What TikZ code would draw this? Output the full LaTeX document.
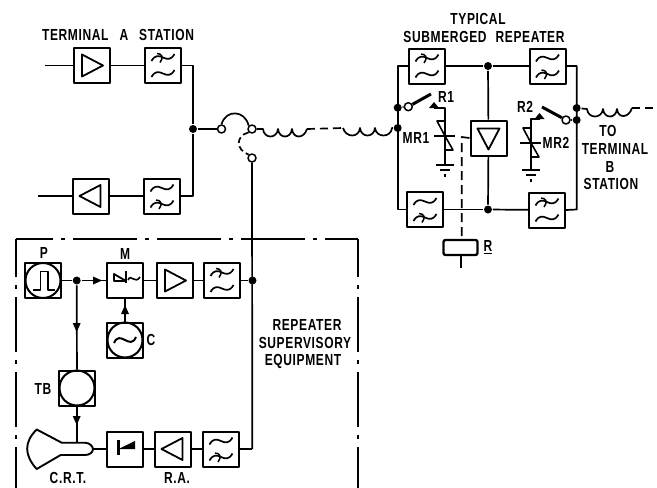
\documentclass[tikz,border=0pt]{standalone}
\usepackage{fontspec}
\setmainfont[FakeStretch=0.75,LetterSpace=4]{Liberation Sans}
\begin{document}
\begin{tikzpicture}[x=1pt,y=-1pt,line width=1.7pt,line join=round,
  box/.style={draw,rectangle,minimum width=36pt,minimum height=35pt,inner sep=0pt,line width=2pt},
  dot/.style={circle,fill=black,draw=none,inner sep=0pt,minimum size=8pt},
  contact/.style={circle,draw,fill=white,inner sep=0pt,minimum size=8pt,line width=1.5pt},
  lab/.style={font=\fontsize{16}{18}\selectfont\bfseries,inner sep=0pt,align=center},
  frameline/.style={line width=2.4pt},
  dashwire/.style={dash pattern=on 8pt off 5pt},
  blade/.style={line width=3pt},
  pics/ampsym/.style={code={\draw[line width=1.8pt] (-9.5,-11)--(11.5,0)--(-9.5,11)--cycle;}},
  pics/wavec/.style={code={\draw[line width=1.7pt] (-11.5,3.5) .. controls (-4,-10) and (4,10) .. (11.5,-3.5);}},
  pics/wavex/.style={code={\draw[line width=1.7pt] (-11.5,3.5) .. controls (-4,-10) and (4,10) .. (11.5,-3.5);
      \draw[line width=1.5pt] (-6,-4) .. controls (-1,-4) and (1,0) .. (-3,5);}},
  pics/filtx/.style={code={\pic at (0,-8) {wavex}; \pic at (0,8) {wavec};}},
  pics/filtc/.style={code={\pic at (0,-8) {wavec}; \pic at (0,8) {wavex};}},
  pics/tiptri/.style={code={\fill (5,0)--(-4,-4)--(-4,4)--cycle;}},
  pics/zener/.style={code={
    \draw[line width=1.6pt] (-8,-15)--(0,-15)--(0,0)--cycle;
    \draw[line width=1.6pt] (0,0)--(8,14)--(0,14)--cycle;
    \draw[line width=1.9pt] (-11,0)--(10,0);}},
  pics/earth/.style={code={
    \draw[line width=1.8pt] (-9,0)--(9,0);
    \draw[line width=1.6pt] (-5,5)--(5,5);
    \fill (-1.4,9)rectangle(1.4,11.5);}},
  pics/reltri/.style={code={\fill (0,-6)--(-5,0)--(5,0)--cycle;}}
]
\useasboundingbox (0,0) rectangle (657,488);

% ---------- boxes ----------
\node[box] (ampA) at (91.5,65.5) {};
\node[box] (filA) at (163,65.5) {};
\node[box] (ampB) at (91,196) {};
\node[box] (filB) at (162,196) {};
\node[box] (rfTL) at (427,66) {};
\node[box] (rfTR) at (547.5,66) {};
\node[box] (rfBL) at (425,209.5) {};
\node[box] (rfBR) at (547,210) {};
\node[box] (ramp) at (488.5,138) {};
\node[box] (pbox) at (43,280.5) {};
\node[box] (mbox) at (125,280.5) {};
\node[box] (samp) at (174.5,280.5) {};
\node[box] (sfil) at (222,280.5) {};
\node[box] (cbox) at (125,340) {};
\node[box] (tbox) at (77,388) {};
\node[box] (dbox) at (125,449) {};
\node[box] (ra) at (173,449) {};
\node[box] (rfil) at (221,449) {};
\node[draw,rectangle,rounded corners=2pt,minimum width=34pt,minimum height=15pt,inner sep=0pt,line width=2.4pt] (relay) at (460.5,247.5) {};

% ---------- box contents ----------
\pic at (ampA) {ampsym};
\pic[xscale=-1] at (ampB) {ampsym};
\pic[rotate=-90] at (ramp) {ampsym};
\pic at (samp) {ampsym};
\pic[xscale=-1] at (ra) {ampsym};
\pic at (filA) {filtx};
\pic at (filB) {filtc};
\pic at (rfTL) {filtx};
\pic at (rfTR) {filtc};
\pic at (rfBL) {filtc};
\pic at (rfBR) {filtx};
\pic at (sfil) {filtx};
\pic at (rfil) {filtc};
\draw[line width=2pt] (pbox) circle[radius=17.5];
\draw[line width=2pt] (cbox) circle[radius=17.5];
\draw[line width=2pt] (tbox) circle[radius=17.5];
\draw[line width=1.7pt] (33,290)--(40.5,290)--(40.5,271.5)--(48,271.5)--(48,290)--(55,290);
\draw[line width=2pt] (114,343) .. controls (120,329) and (130,351) .. (136,337);
\draw[line width=1.8pt] (126,271)--(126,283);
\draw[line width=1.8pt] (114,274)--(126,281)--(114,281)--cycle;
\draw[line width=1.6pt] (128,280) .. controls (131,273) and (135,285) .. (140,277);
\draw[line width=2.2pt] (118.5,440)--(118.5,455);
\fill (118.5,449)--(135,441)--(135,449)--cycle;

% ---------- cathode-ray tube ----------
\draw[line width=1.9pt] (36.7,429.5)--(61.7,442.7)--(85,442.7)
  .. controls (90,442.7) and (93,447) .. (93,449)
  .. controls (93,452) and (90,455) .. (85,455)
  --(60.7,455)--(36.7,469)
  .. controls (24,455) and (24,442) .. cycle;
\coordinate (crtneck) at (76.7,442.7);
\coordinate (crtend) at (93,449);

% ---------- dots, contacts, free ends ----------
\node[dot] (dA) at (193,129) {};
\node[contact] (t1) at (221.5,129) {};
\node[contact] (t2) at (252,129) {};
\node[contact] (t3) at (252,158) {};
\node[dot] (dS) at (252.5,280.5) {};
\node[dot] (dP) at (76.7,280.5) {};
\node[dot] (dTop) at (488,66) {};
\node[dot] (dBot) at (488,209.5) {};
\node[dot] (dCab) at (397.7,128) {};
\node[dot] (dR1) at (397.7,107.7) {};
\node[contact] (c1) at (408.3,106.7) {};
\node[dot] (dOut) at (576.7,108) {};
\node[dot] (dR2) at (576.7,120) {};
\node[contact] (c2) at (566,120) {};
\coordinate (inA) at (45,65.5);
\coordinate (inB) at (38,196);
\coordinate (leftTop) at (397.7,66);
\coordinate (leftBot) at (397.7,209.5);
\coordinate (rightTop) at (576.7,66);
\coordinate (rightBot) at (576.7,209.5);
\coordinate (relayEnd) at (461,268);
\coordinate (dashCorner) at (461.7,137);
\coordinate (blade1) at (431,94);
\coordinate (blade2) at (542,107);
\coordinate (z1top) at (445,107.7);
\coordinate (z1arr) at (434,107.7);
\coordinate (g1) at (445,165);
\coordinate (z2top) at (531,119);
\coordinate (z2arr) at (540,119);
\coordinate (g2) at (531,170);
\coordinate (coil1end) at (307,129);
\coordinate (coil2start) at (343,128);
\coordinate (coil3end) at (632,108);
\coordinate (outEnd) at (655,108);
\coordinate (busEnd) at (252.3,449);

% ---------- terminal A connectors ----------
\draw (inA)--(ampA);
\draw (ampA)--(filA);
\draw (filA.east)-|(dA);
\draw (inB)--(ampB);
\draw (ampB)--(filB);
\draw (filB.east)-|(dA);
\draw (dA)--(t1);
\draw (t1.north) .. controls (226,109) and (245,110) .. (t2.north west);
\draw[dash pattern=on 6pt off 3.5pt] (t2.south west) .. controls (235,136) and (236,150) .. (t3.north west);
\draw (t3.south)--(busEnd);
\draw (t2.east)--(263,129)
  .. controls +(1,10) and +(-1,10) .. ++(15,0)
  .. controls +(1,10) and +(-1,10) .. ++(14,0)
  .. controls +(1,10) and +(-3,10) .. (coil1end);
\draw[dashwire] (coil1end)--(coil2start);
\draw (coil2start)
  .. controls +(3,10) and +(-1,10) .. ++(17,0)
  .. controls +(1,10) and +(-1,10) .. ++(15,0)
  .. controls +(1,10) and +(-1,10) .. ++(17,0)--(dCab);

% ---------- repeater ----------
\draw (rfTL.west)--(leftTop)--(leftBot)--(rfBL.west);
\draw (rfTL)--(dTop);
\draw (dTop)--(rfTR);
\draw (rfBL)--(dBot);
\draw (dBot)--(rfBR);
\draw (rfTR.east)--(rightTop)--(rightBot)--(rfBR.east);
\draw (dTop)--(ramp);
\draw (ramp)--(dBot);
\draw[dash pattern=on 9pt off 5pt] (ramp.west)--(dashCorner)--(relay.north -| dashCorner);
\draw (relay.south -| relayEnd)--(relayEnd);
\draw (dR1)--(c1);
\draw[blade] (c1)--(blade1);
\draw (dR2)--(c2);
\draw[blade] (c2)--(blade2);
\draw (z1arr)--(z1top)--(g1);
\draw (z2arr)--(z2top)--(g2);
\pic at (434,108) {reltri};
\pic at (539.5,119) {reltri};
\pic at (445,136) {zener};
\pic at (531,143) {zener};
\pic at (g1) {earth};
\pic at (g2) {earth};
\draw (dOut)--(587,109)
  .. controls +(1,10) and +(-1,10) .. ++(16,0)
  .. controls +(1,10) and +(-1,10) .. ++(14,0)
  .. controls +(1,10) and +(-3,10) .. (coil3end);
\draw[dashwire] (coil3end)--(outEnd);

% ---------- supervisory equipment ----------
\draw (pbox)--(dP);
\draw (dP)--(mbox);
\pic at (97,280.5) {tiptri};
\draw (mbox)--(samp);
\draw (samp)--(sfil);
\draw (sfil)--(dS);
\draw (dP)--(tbox);
\pic[rotate=-90] at (76.7,327) {tiptri};
\draw (tbox.south -| crtneck)--(crtneck);
\pic[rotate=-90] at (76.7,420) {tiptri};
\draw (cbox)--(mbox);
\pic[rotate=90] at (125,310) {tiptri};
\draw (crtend)--(dbox);
\draw (dbox)--(ra);
\draw (ra)--(rfil);
\draw (rfil.east)--(busEnd);

% ---------- equipment frame ----------
\draw[frameline,dash pattern=on 64pt off 8pt on 4pt off 8pt,dash phase=27pt] (16,239)--(358,239);
\draw[frameline,dash pattern=on 55pt off 8pt on 4pt off 8pt,dash phase=17pt] (16,239)--(16,488);
\draw[frameline,dash pattern=on 55pt off 8pt on 4pt off 8pt,dash phase=17pt] (358,239)--(358,488);

% ---------- labels ----------
\node[lab] (lA) at (118,35) {TERMINAL\hspace{11pt}A\hspace{11pt}STATION};
\node[lab] (lT) at (478,19) {TYPICAL};
\node[lab] (lS) at (484,37) {SUBMERGED\hspace{9pt}REPEATER};
\node[lab] (lR1) at (446,97) {R1};
\node[lab] (lMR1) at (416,138) {MR1};
\node[lab] (lR2) at (525,107) {R2};
\node[lab] (lMR2) at (556,143) {MR2};
\node[lab] (lTo) at (608,131) {TO};
\node[lab] (lTe) at (615,149) {TERMINAL};
\node[lab] (lB) at (610,167) {B};
\node[lab] (lSt) at (611,184) {STATION};
\node[lab] (lR) at (488,247) {\underline{R}};
\node[lab] (lP) at (44,253) {P};
\node[lab] (lM) at (125,254) {M};
\node[lab] (lC) at (151,340) {C};
\node[lab] (lTB) at (43,389) {TB};
\node[lab] (lCRT) at (68,478) {C.R.T.};
\node[lab] (lRA) at (177,478) {R.A.};
\node[lab] (lRe) at (307,325) {REPEATER};
\node[lab] (lSu) at (305,343) {SUPERVISORY};
\node[lab] (lEq) at (303,361) {EQUIPMENT};
\end{tikzpicture}
\end{document}
